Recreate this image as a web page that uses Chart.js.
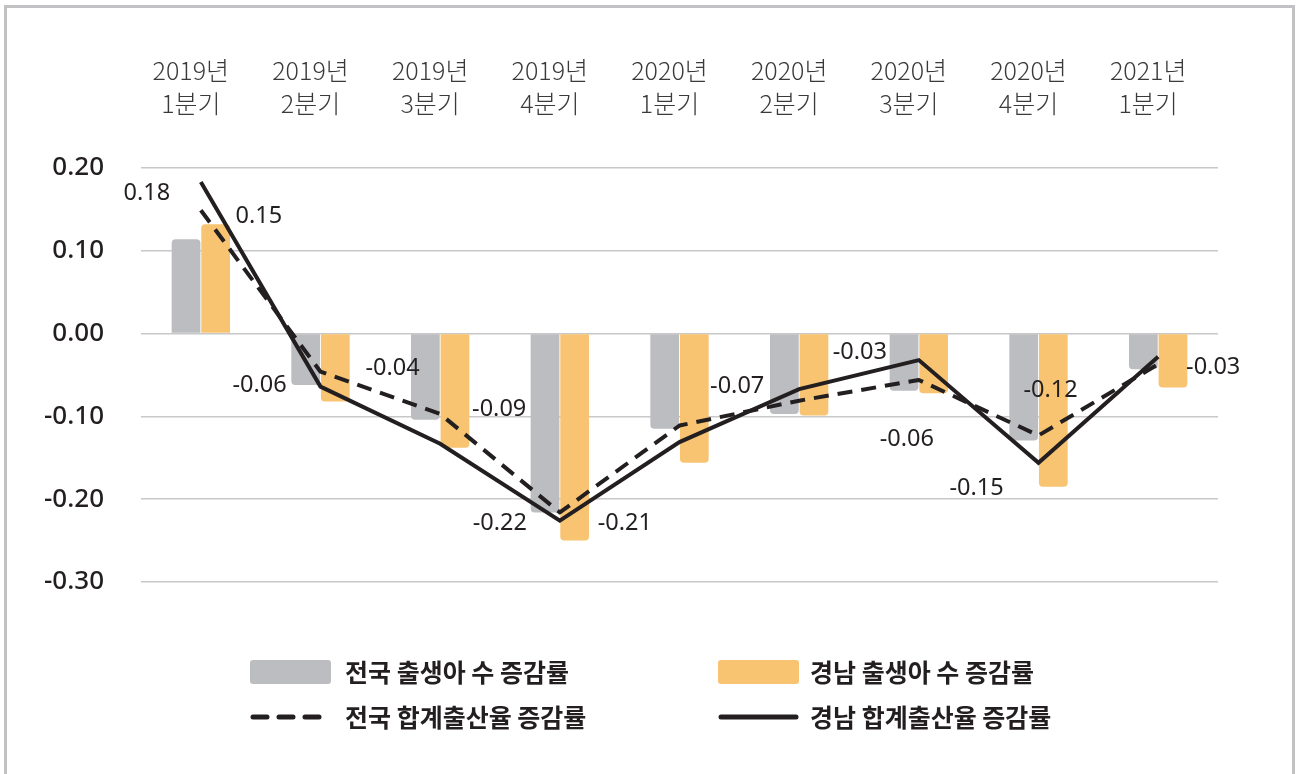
<!DOCTYPE html>
<html>
<head>
<meta charset="utf-8">
<script src="https://cdn.jsdelivr.net/npm/chart.js@4.4.0/dist/chart.umd.min.js"></script>
<style>
html,body{margin:0;padding:0;background:#fff;overflow:hidden;}
#wrap{position:relative;width:1296px;height:774px;}
#frame{position:absolute;left:4px;top:5px;width:1285px;height:800px;border:3px solid #c2c2c5;pointer-events:none;}
canvas{position:absolute;left:0;top:0;}
</style>
</head>
<body>
<div id="wrap"><canvas id="c" width="1296" height="774"></canvas><div id="frame"></div></div>
<script>
// ---- data ----
const categories = [
  ['2019년','1분기'],['2019년','2분기'],['2019년','3분기'],['2019년','4분기'],
  ['2020년','1분기'],['2020년','2분기'],['2020년','3분기'],['2020년','4분기'],
  ['2021년','1분기']
];
const seriesNames = ['전국 출생아 수 증감률','경남 출생아 수 증감률','전국 합계출산율 증감률','경남 합계출산율 증감률'];
const nationalBirths   = [0.114,-0.062,-0.104,-0.216,-0.115,-0.097,-0.069,-0.129,-0.043];
const gyeongnamBirths  = [0.132,-0.082,-0.138,-0.250,-0.156,-0.099,-0.072,-0.185,-0.065];
const nationalTFR      = [0.149,-0.046,-0.097,-0.216,-0.111,-0.081,-0.056,-0.123,-0.037];
const gyeongnamTFR     = [0.183,-0.064,-0.133,-0.226,-0.131,-0.067,-0.032,-0.156,-0.028];
const nationalTFRLabels  = ['0.15','-0.04','-0.09','-0.21',null,null,'-0.06','-0.12',null];
const gyeongnamTFRLabels = ['0.18','-0.06',null,'-0.22',null,'-0.07','-0.03','-0.15','-0.03'];
const yTickValues = [0.20,0.10,0.00,-0.10,-0.20,-0.30];

// ---- styles ----
const GRAY = '#bcbdc0', ORANGE = '#f8c472', INK = '#231f20';
const FONT = '"Noto Sans", "Noto Sans CJK KR", sans-serif';
const KFONT = '"Noto Sans CJK KR", "Noto Sans", sans-serif';

const pointLabelPlugin = {
  id: 'pointLabels',
  afterDatasetsDraw(chart, args, opts) {
    const ctx = chart.ctx;
    ctx.save();
    ctx.font = '23.5px ' + FONT;
    ctx.fillStyle = INK;
    ctx.textAlign = 'center';
    ctx.textBaseline = 'middle';
    opts.sets.forEach(s => {
      const meta = chart.getDatasetMeta(s.dataset);
      s.labels.forEach((txt, i) => {
        if (!txt) return;
        const el = meta.data[i];
        const off = s.offsets[i];
        ctx.fillText(txt, el.x + off[0], el.y + off[1]);
      });
    });
    ctx.restore();
  }
};

const legendPlugin = {
  id: 'customLegend',
  afterDraw(chart, args, opts) {
    const ctx = chart.ctx;
    const base = chart.chartArea.bottom;
    ctx.save();
    ctx.font = 'bold 25px ' + KFONT;
    ctx.textBaseline = 'middle';
    ctx.textAlign = 'left';
    opts.items.forEach(it => {
      const ds = chart.data.datasets[it.dataset];
      const x = it.col, y = base + it.dy;
      if (ds.type === 'line') {
        ctx.strokeStyle = ds.borderColor;
        ctx.lineWidth = 5;
        ctx.lineCap = 'round';
        ctx.setLineDash(ds.borderDash && ds.borderDash.length ? [14, 12] : []);
        ctx.beginPath();
        ctx.moveTo(x + 3, y); ctx.lineTo(x + 78, y);
        ctx.stroke();
        ctx.setLineDash([]);
      } else {
        ctx.fillStyle = ds.backgroundColor;
        ctx.beginPath();
        ctx.roundRect(x, y - 12, 81, 24, 3);
        ctx.fill();
      }
      ctx.fillStyle = INK;
      ctx.fillText(ds.label, x + it.textGap, y);
    });
    ctx.restore();
  }
};

new Chart(document.getElementById('c'), {
  data: {
    labels: categories,
    datasets: [
      { type: 'bar', label: seriesNames[0], data: nationalBirths, backgroundColor: GRAY,
        borderRadius: 4, categoryPercentage: 0.495, barPercentage: 0.97, order: 2 },
      { type: 'bar', label: seriesNames[1], data: gyeongnamBirths, backgroundColor: ORANGE,
        borderRadius: 4, categoryPercentage: 0.495, barPercentage: 0.97, order: 2 },
      { type: 'line', label: seriesNames[2], data: nationalTFR, borderColor: INK, borderWidth: 4,
        borderDash: [15, 9], pointRadius: 0, tension: 0, borderJoinStyle: 'round', order: 1 },
      { type: 'line', label: seriesNames[3], data: gyeongnamTFR, borderColor: INK, borderWidth: 4,
        pointRadius: 0, tension: 0, borderJoinStyle: 'miter', order: 0 }
    ]
  },
  options: {
    responsive: false,
    animation: false,
    devicePixelRatio: 1,
    layout: { padding: { left: 0, right: 78, top: 0, bottom: 192 } },
    scales: {
      x: {
        position: 'top',
        offset: true,
        grid: { display: false, drawTicks: false },
        border: { display: false },
        ticks: { color: '#3a3a3a', font: { family: KFONT, size: 25, weight: 300, lineHeight: 1.32 },
                 padding: 48, labelOffset: -10, maxRotation: 0, autoSkip: false },
        afterFit(scale) { scale.height = 168; }
      },
      y: {
        min: -0.3, max: 0.2,
        afterBuildTicks(scale) { scale.ticks = yTickValues.map(v => ({ value: v })); },
        afterFit(scale) { scale.width = 141; },
        grid: { color: '#c8c8c8', lineWidth: 1.5, drawTicks: false },
        border: { display: false },
        ticks: { color: INK, padding: 37, font: { family: FONT, size: 26, weight: 500 },
                 callback: v => Number(v).toFixed(2) }
      }
    },
    plugins: {
      legend: { display: false },
      tooltip: { enabled: false },
      pointLabels: {
        sets: [
          { dataset: 3, labels: gyeongnamTFRLabels,
            offsets: [[-54,11],[-61,-1],null,[-60,3],null,[-62,-3],[-59,-8],[-62,26],[55,11]] },
          { dataset: 2, labels: nationalTFRLabels,
            offsets: [[58,6],[72,-3],[59,-5],[65,11],null,null,[-12,59],[12,-45],null] }
        ]
      },
      customLegend: {
        items: [
          { dataset: 0, col: 250, dy: 90, textGap: 95 },
          { dataset: 1, col: 718, dy: 90, textGap: 92 },
          { dataset: 2, col: 250, dy: 135, textGap: 95 },
          { dataset: 3, col: 718, dy: 135, textGap: 92 }
        ]
      }
    }
  },
  plugins: [pointLabelPlugin, legendPlugin]
});
</script>
</body>
</html>
